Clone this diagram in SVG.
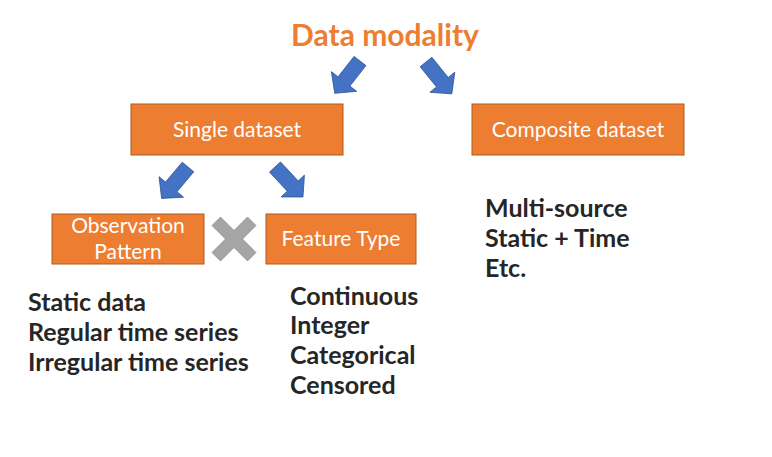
<svg xmlns="http://www.w3.org/2000/svg" width="772" height="457" viewBox="0 0 772 457">
<style>
.box{fill:#ED7D31;stroke:#AE5A21;stroke-width:1}
.bl{font-family:Lato,"Open Sans",sans-serif;font-size:21px;fill:#FFFFFF;text-anchor:middle}
.lst{font-family:Lato,"Open Sans",sans-serif;font-size:25px;font-weight:bold;fill:#262626}
.arr{fill:#4472C4;stroke:#2F528F;stroke-width:0.75}
.title{font-family:Lato,"Open Sans",sans-serif;font-size:30px;font-weight:bold;fill:#ED7D31;text-anchor:middle}
</style>
<defs>
<polygon id="blk" points="0,-7.5 26,-7.5 26,-16 41,0 26,16 26,7.5 0,7.5"/>
</defs>
<rect width="772" height="457" fill="#FFFFFF"/>
<g id="title"><text class="title" x="385" y="46">Data modality</text></g>
<g id="connectors">
<use href="#blk" class="arr" transform="translate(360,61) rotate(128)"/>
<use href="#blk" class="arr" transform="translate(426,62) rotate(51)"/>
<use href="#blk" class="arr" transform="translate(188,167) rotate(130)"/>
<use href="#blk" class="arr" transform="translate(275,167) rotate(47)"/>
</g>
<g id="single"><rect class="box" x="131" y="104" width="212" height="51"/><text class="bl" x="237" y="137">Single dataset</text></g>
<g id="composite"><rect class="box" x="472" y="104" width="212" height="51"/><text class="bl" x="578" y="137">Composite dataset</text></g>
<g id="observation"><rect class="box" x="52" y="214" width="152" height="50"/><text class="bl" x="128" y="233">Observation</text><text class="bl" x="128" y="259">Pattern</text></g>
<g id="times"><polygon transform="translate(234,239)" fill="#A5A5A5" stroke="#8C8C8C" stroke-width="0.75" points="-22,-13.5 -13.5,-22 0,-8.5 13.5,-22 22,-13.5 8.5,0 22,13.5 13.5,22 0,8.5 -13.5,22 -22,13.5 -8.5,0"/></g>
<g id="feature"><rect class="box" x="266" y="214" width="150" height="50"/><text class="bl" x="341" y="246">Feature Type</text></g>
<g id="obs-list"><text class="lst" x="28" y="311">Static data</text><text class="lst" x="28" y="341">Regular time series</text><text class="lst" x="28" y="371">Irregular time series</text></g>
<g id="feat-list"><text class="lst" x="290" y="305">Continuous</text><text class="lst" x="290" y="334">Integer</text><text class="lst" x="290" y="364">Categorical</text><text class="lst" x="290" y="394">Censored</text></g>
<g id="comp-list"><text class="lst" x="485" y="217">Multi-source</text><text class="lst" x="485" y="247">Static + Time</text><text class="lst" x="485" y="277">Etc.</text></g>
</svg>
